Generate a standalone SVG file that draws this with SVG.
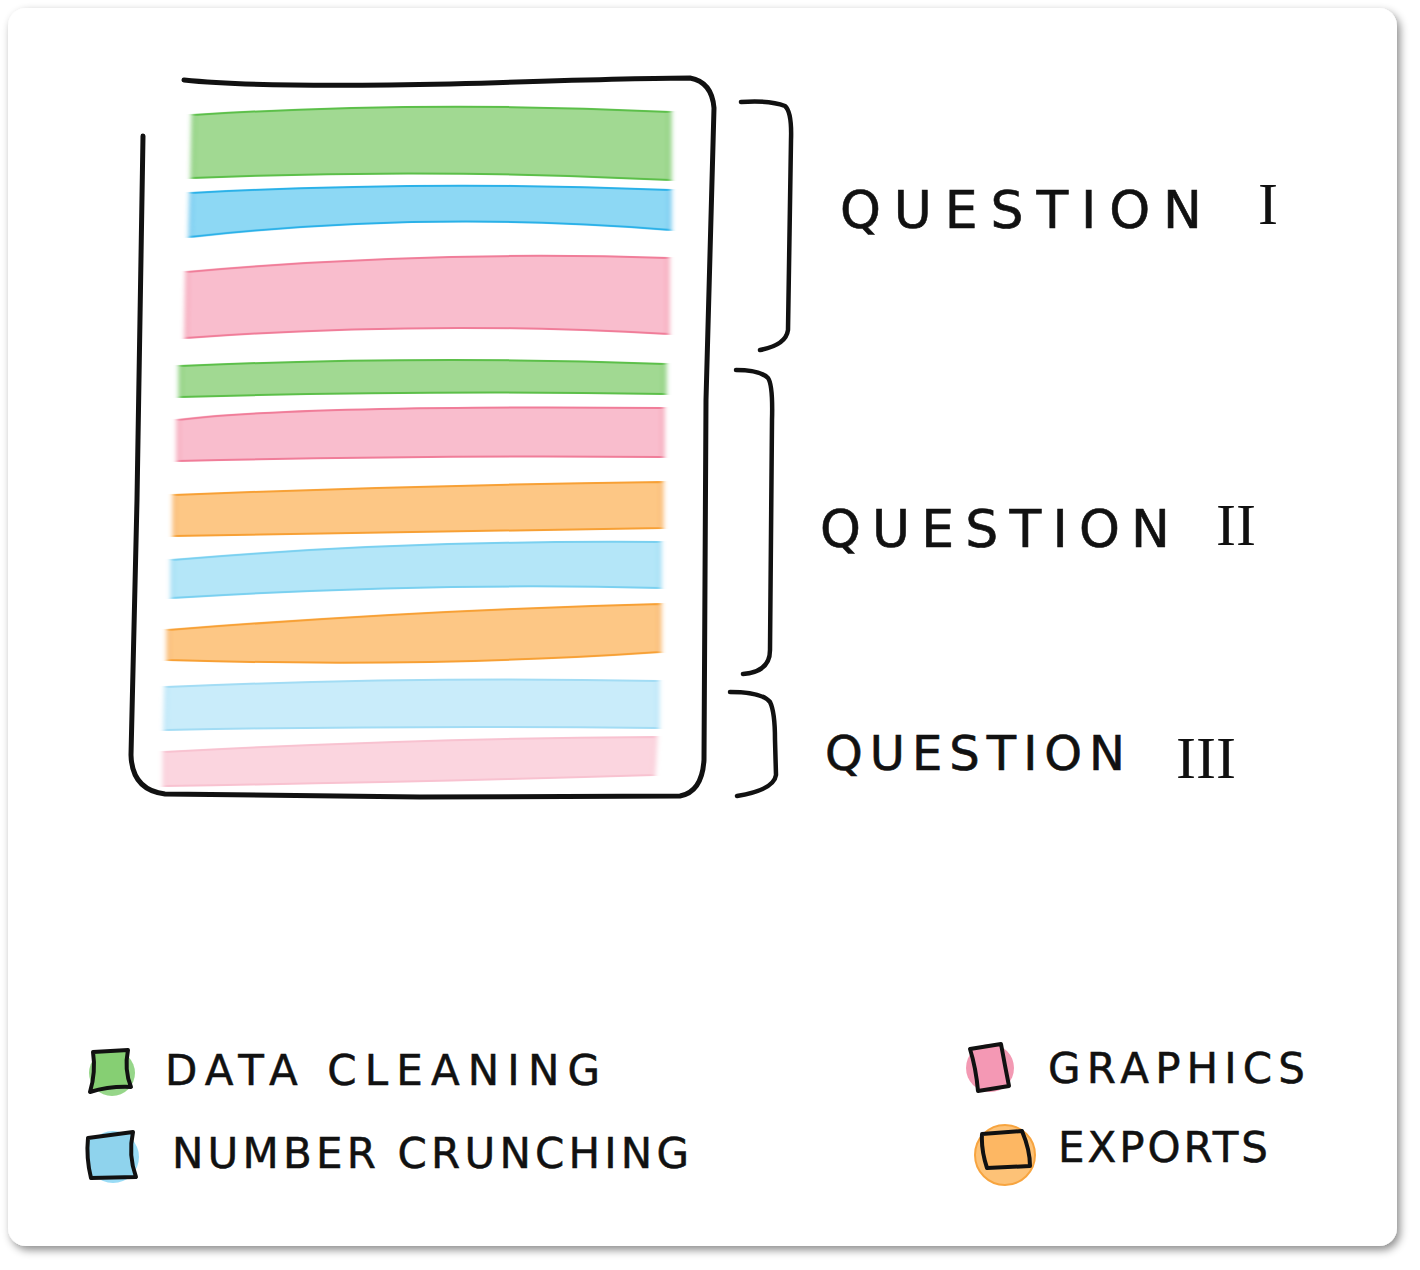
<svg xmlns="http://www.w3.org/2000/svg" width="1420" height="1270" viewBox="0 0 1420 1270">
<style>
.ink{fill:none;stroke:#111;stroke-width:4.5;stroke-linecap:round;stroke-linejoin:round}
.lbl{font-family:"DejaVu Sans","Liberation Sans",sans-serif;font-size:52px;fill:#111;stroke:#111;stroke-width:0.6}
.num{font-family:"Liberation Serif","DejaVu Serif",serif;font-size:60px;fill:#111}
.leg{font-family:"DejaVu Sans","Liberation Sans",sans-serif;font-size:42px;fill:#111;stroke:#111;stroke-width:0.5}
.g{fill:#a1d992;stroke:#5cbf4a;stroke-width:2}
.b{fill:#8dd8f4;stroke:#2cb1e8;stroke-width:2}
.p{fill:#f9bdcd;stroke:#f07d99;stroke-width:2}
.o{fill:#fdc785;stroke:#f7a035;stroke-width:2}
</style>
<defs>
<filter id="sh" x="-5%" y="-5%" width="110%" height="110%">
<feDropShadow dx="3" dy="4" stdDeviation="4" flood-color="#000" flood-opacity="0.45"/>
</filter>
<filter id="soft" x="-5%" y="-20%" width="110%" height="140%">
<feGaussianBlur stdDeviation="2.5 0.5"/>
</filter>
</defs>
<rect x="0" y="0" width="1420" height="1270" fill="#ffffff"/>
<rect id="card" x="8" y="8" width="1389" height="1238" rx="18" fill="#ffffff" filter="url(#sh)"/>

<g id="bands" filter="url(#soft)">
<path id="band1" class="g" d="M193 115 Q430 100 670 112 L670 180 Q430 168 192 178 Z"/>
<path id="band2" class="b" d="M191 193 Q430 180 670 190 L670 230 Q430 210 190 237 Z"/>
<path id="band3" class="p" d="M187 272 Q430 250 668 258 L668 334 Q430 320 186 338 Z"/>
<path id="band4" class="g" d="M180 366 Q430 355 665 364 L665 394 Q430 390 180 397 Z"/>
<path id="band5" class="p" d="M178 420 Q300 405 663 408 L663 457 Q430 455 178 461 Z"/>
<path id="band6" class="o" d="M174 495 Q420 485 662 482 L662 528 Q430 532 174 536 Z"/>
<path id="band7" class="b" style="fill:#b4e6f8;stroke:#7ad0f0" d="M172 560 Q400 540 660 542 L660 588 Q430 582 172 598 Z"/>
<path id="band8" class="o" d="M168 630 Q420 610 660 604 L660 652 Q430 668 168 660 Z"/>
<path id="band9" class="b" style="fill:#c9ecfa;stroke:#a2dcf4" d="M166 687 Q420 676 658 681 L658 728 Q420 725 165 730 Z"/>
<path id="band10" class="p" style="fill:#fbd5df;stroke:#f8c2d0" d="M164 752 Q420 738 656 737 L654 775 Q420 782 164 786 Z"/>
</g>

<g id="box">
<path class="ink" style="stroke-width:5" d="M184 80 Q260 88 450 84 Q640 78 690 78 Q712 82 714 108 L706 400 L704 760 Q702 792 680 796 L420 797 L165 794 Q132 790 131 755 L137 500 L143 136"/>
</g>

<g id="connectors">
<path id="brace1" class="ink" d="M741 102 Q770 100 785 106 Q792 112 791 140 L788 330 Q786 345 760 350"/>
<path id="brace2" class="ink" d="M736 370 Q760 370 768 378 Q773 385 772 420 L770 650 Q770 672 743 674"/>
<path id="brace3" class="ink" d="M730 692 Q762 692 770 702 Q775 712 775 740 L776 775 Q774 790 737 796"/>
</g>

<g id="q1"><text class="lbl" x="840" y="228" textLength="362" lengthAdjust="spacing">QUESTION</text><text class="num" x="1258" y="224">I</text></g>
<g id="q2"><text class="lbl" x="820" y="547" textLength="350" lengthAdjust="spacing">QUESTION</text><text class="num" x="1216" y="545">II</text></g>
<g id="q3"><text class="lbl" x="825" y="770" style="font-size:48px" textLength="300" lengthAdjust="spacing">QUESTION</text><text class="num" x="1176" y="778">III</text></g>

<g id="legend-data">
<circle cx="112" cy="1073" r="23" fill="#7ccc6c" opacity="0.8"/>
<path class="ink" style="fill:#86cf73;stroke-width:4" d="M93 1052 L128 1050 Q124 1070 131 1087 Q110 1086 90 1092 Q96 1072 93 1052 Z"/>
<text class="leg" x="165" y="1085" textLength="435" lengthAdjust="spacing">DATA CLEANING</text>
</g>
<g id="legend-number">
<circle cx="113" cy="1157" r="26" fill="#8fd8f5" opacity="0.9"/>
<path class="ink" style="fill:#8fd3ed;stroke-width:4" d="M88 1138 L133 1132 Q128 1155 136 1177 L91 1178 Q86 1158 88 1138 Z"/>
<text class="leg" x="172" y="1168" textLength="517" lengthAdjust="spacing">NUMBER CRUNCHING</text>
</g>
<g id="legend-graphics">
<circle cx="990" cy="1068" r="24" fill="#f07fa0" opacity="0.8"/>
<path class="ink" style="fill:#f498b4;stroke-width:4" d="M970 1049 L1001 1044 Q1005 1066 1009 1086 L978 1091 Q976 1068 970 1049 Z"/>
<text class="leg" x="1048" y="1083" textLength="257" lengthAdjust="spacing">GRAPHICS</text>
</g>
<g id="legend-exports">
<circle cx="1005" cy="1155" r="30" fill="#fdbf70" stroke="#f7a035" stroke-width="2" opacity="0.95"/>
<path class="ink" style="fill:#fdb763;stroke-width:4" d="M982 1134 L1022 1131 Q1030 1150 1030 1166 L987 1168 Q981 1150 982 1134 Z"/>
<text class="leg" x="1058" y="1162" textLength="210" lengthAdjust="spacing">EXPORTS</text>
</g>
</svg>
